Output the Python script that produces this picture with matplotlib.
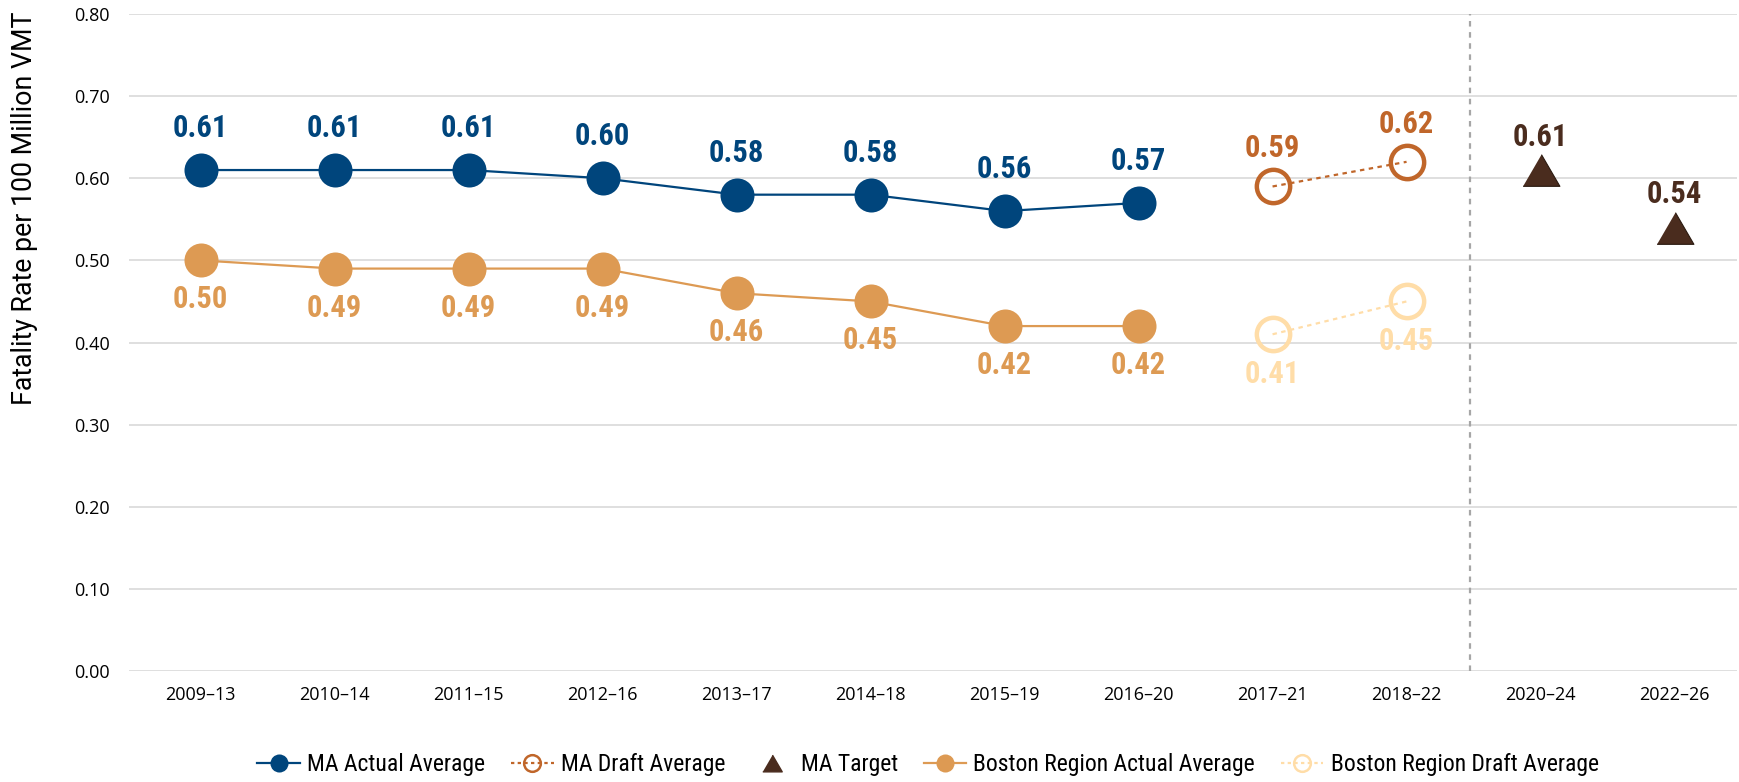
import matplotlib
matplotlib.use("Agg")
import matplotlib.pyplot as plt
from matplotlib import font_manager
from matplotlib.lines import Line2D

# ---- data ----
periods = ["2009–13", "2010–14", "2011–15", "2012–16", "2013–17", "2014–18",
           "2015–19", "2016–20", "2017–21", "2018–22", "2020–24", "2022–26"]

ma_actual = [0.61, 0.61, 0.61, 0.60, 0.58, 0.58, 0.56, 0.57]
ma_actual_idx = [0, 1, 2, 3, 4, 5, 6, 7]

ma_draft = [0.59, 0.62]
ma_draft_idx = [8, 9]

ma_target = [0.61, 0.54]
ma_target_idx = [10, 11]

boston_actual = [0.50, 0.49, 0.49, 0.49, 0.46, 0.45, 0.42, 0.42]
boston_actual_idx = [0, 1, 2, 3, 4, 5, 6, 7]

boston_draft = [0.41, 0.45]
boston_draft_idx = [8, 9]

yticks = [0.0, 0.1, 0.2, 0.3, 0.4, 0.5, 0.6, 0.7, 0.8]

# ---- colours ----
C_MA = "#00457C"
C_MA_DRAFT = "#C0662A"
C_TARGET = "#4A2C1E"
C_BOS = "#DD9A53"
C_BOS_DRAFT = "#FFDDA8"
C_GRID = "#D9D9D9"


def pick_font(cands):
    names = {f.name for f in font_manager.fontManager.ttflist}
    for c in cands:
        if c in names:
            return c
    return "DejaVu Sans"


BASE_FONT = pick_font(["Open Sans", "Noto Sans", "DejaVu Sans"])
NARROW_FONT = pick_font(["Liberation Sans Narrow", "Roboto Condensed",
                         "DejaVu Sans Condensed", "Roboto"])
LABEL_FONT = pick_font(["Roboto", "Open Sans"])

plt.rcParams["font.family"] = BASE_FONT

fig = plt.figure(figsize=(17.39, 7.82), dpi=100)
ax = fig.add_axes([129 / 1739, 1 - 671 / 782, (1737 - 129) / 1739, (671 - 14) / 782])

ax.set_ylim(0, 0.8)
ax.set_xlim(-0.534, 11.466)
ax.set_yticks(yticks)
ax.set_yticklabels([f"{v:.2f}" for v in yticks])
ax.set_xticks(range(len(periods)))
ax.set_xticklabels(periods)
ax.tick_params(axis="both", length=0, labelsize=13, colors="black")
ax.tick_params(axis="y", pad=14)
ax.tick_params(axis="x", pad=11)
for s in ax.spines.values():
    s.set_visible(False)
ax.grid(axis="y", color=C_GRID, linewidth=1.2)
ax.set_axisbelow(True)

# separator between draft and target periods
ax.axvline(9.47, color="#A6A6A6", linewidth=1.6, linestyle=(0, (2.5, 2.5)), zorder=1)

MS = 24.5
ax.plot(ma_actual_idx, ma_actual, color=C_MA, linewidth=1.6, marker="o",
        markersize=MS, markeredgewidth=0, zorder=4)
ax.plot(boston_actual_idx, boston_actual, color=C_BOS, linewidth=1.6, marker="o",
        markersize=MS, markeredgewidth=0, zorder=3)
ax.plot(ma_draft_idx, ma_draft, color=C_MA_DRAFT, linewidth=1.6,
        linestyle=(0, (2, 2)), marker="o", markersize=24, markerfacecolor="none",
        markeredgewidth=3.2, zorder=4)
ax.plot(boston_draft_idx, boston_draft, color=C_BOS_DRAFT, linewidth=1.6,
        linestyle=(0, (2, 2)), marker="o", markersize=24, markerfacecolor="none",
        markeredgewidth=3.2, zorder=3)

tri = [(-0.5, -0.43), (0.5, -0.43), (0.0, 0.43)]
ax.plot(ma_target_idx, ma_target, linestyle="none", marker=tri, markersize=26.5,
        color=C_TARGET, markeredgecolor="#2a1a10", markeredgewidth=0.8, zorder=4)


def label(xs, ys, color, dy):
    for x, y in zip(xs, ys):
        ax.annotate(f"{y:.2f}", (x, y), xytext=(0, dy), textcoords="offset points",
                    ha="center", va="baseline", color=color, fontsize=22,
                    fontweight="bold", family=NARROW_FONT, zorder=5)


label(ma_actual_idx, ma_actual, C_MA, 23.8)
label(boston_actual_idx, boston_actual, C_BOS, -34.6)
label(ma_draft_idx, ma_draft, C_MA_DRAFT, 20.9)
label(ma_target_idx, ma_target, C_TARGET, 17.3)
label(boston_draft_idx, boston_draft, C_BOS_DRAFT, -35.3)

fig.text(25 / 1739, 1 - 208 / 782, "Fatality Rate per 100 Million VMT",
         rotation=90, ha="center", va="center", fontsize=19.3, family=LABEL_FONT)

handles = [
    Line2D([], [], color=C_MA, linewidth=1.6, marker="o", markersize=13,
           markeredgewidth=0),
    Line2D([], [], color=C_MA_DRAFT, linewidth=1.6, linestyle=(0, (1.5, 1.5)),
           marker="o", markersize=12, markerfacecolor="none", markeredgewidth=1.8),
    Line2D([], [], linestyle="none", marker=tri, markersize=14, color=C_TARGET),
    Line2D([], [], color=C_BOS, linewidth=1.6, marker="o", markersize=13,
           markeredgewidth=0),
    Line2D([], [], color=C_BOS_DRAFT, linewidth=1.6, linestyle=(0, (1.5, 1.5)),
           marker="o", markersize=12, markerfacecolor="none", markeredgewidth=1.8),
]
names = ["MA Actual Average", "MA Draft Average", "MA Target",
         "Boston Region Actual Average", "Boston Region Draft Average"]
fig.legend(handles, names, loc="center", bbox_to_anchor=(928 / 1739, 1 - 765 / 782),
           ncol=5, frameon=False, handlelength=1.8, handletextpad=0.3,
           columnspacing=1.1, prop={"family": NARROW_FONT, "size": 17})

fig.savefig("out.png", dpi=100)
